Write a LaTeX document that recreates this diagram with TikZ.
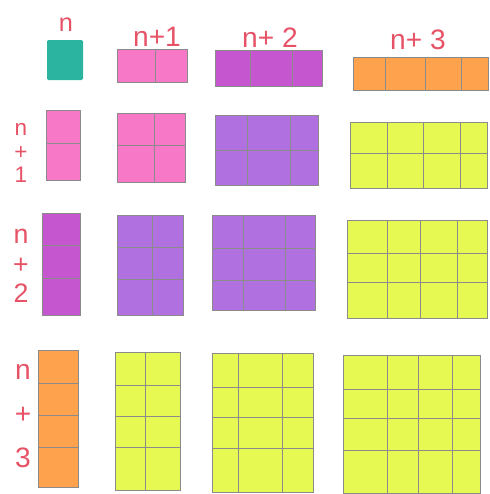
\documentclass[tikz,border=0pt]{standalone}
\usepackage{fontspec}
\setmainfont{Liberation Sans}
\usepackage{xcolor}
\usepackage{tikz}
\definecolor{tealsq}{HTML}{2BB5A0}
\definecolor{pinkblk}{HTML}{F878C8}
\definecolor{purpleblk}{HTML}{B070E0}
\definecolor{magentablk}{HTML}{C656D0}
\definecolor{orangeblk}{HTML}{FFA24E}
\definecolor{limeblk}{HTML}{E6F852}
\definecolor{penred}{HTML}{E65266}
\definecolor{pencil}{HTML}{5A5A5A}

% colour, x1, y1, x2, y2, vertical lines, horizontal lines
\newcommand\gridblock[7]{%
  \fill[#1] (#2,#3) rectangle (#4,#5);
  \draw[pencilline] (#2,#3) rectangle (#4,#5);
  \foreach \gx in {#6} {\draw[pencilline] (\gx,#3) -- (\gx,#5);}
  \foreach \gy in {#7} {\draw[pencilline] (#2,\gy) -- (#4,\gy);}
}

\begin{document}
\begin{tikzpicture}[
  x=0.025cm,y=-0.025cm,
  pencilline/.style={draw=pencil!70,line width=0.4pt},
  collbl/.style={text=penred,font=\fontsize{20}{24}\selectfont,inner sep=0pt},
  rowlbl/.style={text=penred,align=center,inner sep=0pt}
]
\useasboundingbox (0,0) rectangle (489,494);
% column heads
\node[collbl,font=\fontsize{18}{20}\selectfont] (hn) at (66,25) {n};
\node[collbl] (hn1) at (157,37) {n+1};
\node[collbl] (hn2) at (270,38) {n+ 2};
\node[collbl] (hn3) at (418,40) {n+ 3};
% row heads
\node[rowlbl,font=\fontsize{16}{17}\selectfont] (rn1) at (21,153) {n\\+\\1};
\node[rowlbl,font=\fontsize{19}{21}\selectfont] (rn2) at (21,266) {n\\+\\2};
\node[rowlbl,font=\fontsize{20}{31}\selectfont] (rn3) at (23,416) {n\\+\\3};
% top row
\fill[tealsq,rounded corners=1pt] (47,40) rectangle (83,80);
\gridblock{pinkblk}{117}{49}{187}{82}{155}{49}
\gridblock{magentablk}{215}{50}{322}{86}{250,292}{50}
\gridblock{orangeblk}{353}{57}{488}{90}{385,425,461}{57}
% left column
\gridblock{pinkblk}{46}{110}{80}{180}{46}{143}
\gridblock{magentablk}{42}{213}{80}{315}{42}{245,278}
\gridblock{orangeblk}{38}{350}{78}{487}{38}{383,415,447}
% n+1 column
\gridblock{pinkblk}{117}{113}{185}{182}{154}{145}
\gridblock{purpleblk}{117}{215}{183}{315}{152}{247,279}
\gridblock{limeblk}{115}{352}{180}{490}{145}{385,416,447}
% n+2 column
\gridblock{purpleblk}{215}{115}{318}{185}{247,290}{150}
\gridblock{purpleblk}{212}{215}{315}{310}{243,285}{248,280}
\gridblock{limeblk}{212}{353}{313}{492}{238,282}{387,417,448}
% n+3 column
\gridblock{limeblk}{350}{122}{487}{188}{387,423,460}{153}
\gridblock{limeblk}{347}{220}{487}{318}{387,420,457}{253,282}
\gridblock{limeblk}{343}{355}{480}{493}{387,418,452}{389,418,450}
\end{tikzpicture}
\end{document}
